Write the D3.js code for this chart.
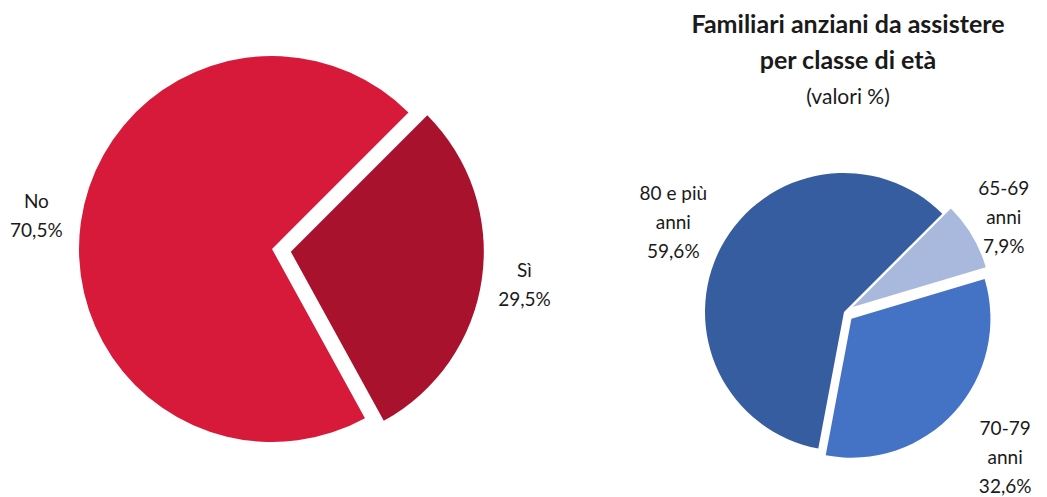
<!DOCTYPE html>
<html>
<head>
<meta charset="utf-8">
<script src="https://cdn.jsdelivr.net/npm/d3@7"></script>
<style>
  body { margin: 0; background: #fff; }
  svg { display: block; font-family: Lato, "Noto Sans", sans-serif; }
</style>
</head>
<body>
<svg></svg>
<script>
// data
const leftLabels = [["Sì"], ["No"]];
const leftValues = [29.5, 70.5];
const leftColors = ["#A8122D", "#D7193A"];
const leftPulled = [true, false];

const rightLabels = [["65-69", "anni"], ["70-79", "anni"], ["80 e più", "anni"]];
const rightValues = [7.9, 32.6, 59.6];
const rightColors = ["#A9B8DD", "#4473C5", "#375DA1"];
const rightPulled = [true, true, false];

const titleLines = ["Familiari anziani da assistere", "per classe di età"];
const subTitle = "(valori %)";

const width = 1047, height = 497;
const svg = d3.select("svg").attr("width", width).attr("height", height);

const fmt = v => d3.format(".1f")(v).replace(".", ",") + "%";

function drawPie(cfg) {
  const g = svg.append("g").attr("transform", `translate(${cfg.cx},${cfg.cy})`);
  const pie = d3.pie().sort(null).value(d => d)
    .startAngle(cfg.start).endAngle(cfg.start + 2 * Math.PI);
  const arcs = pie(cfg.values);
  const arc = d3.arc().innerRadius(0).outerRadius(cfg.r);

  const slice = g.selectAll("g.slice")
    .data(arcs)
    .join("g")
    .attr("class", "slice")
    .attr("transform", (d, i) => {
      if (!cfg.pulled[i]) return null;
      const a = (d.startAngle + d.endAngle) / 2;
      return `translate(${Math.sin(a) * cfg.pull},${-Math.cos(a) * cfg.pull})`;
    });

  slice.append("path")
    .attr("d", arc)
    .attr("fill", (d, i) => cfg.colors[i]);

  // labels outside the slices
  slice.append("text")
    .attr("text-anchor", "middle")
    .attr("font-size", 19)
    .attr("fill", "#1a1a1a")
    .each(function (d, i) {
      const a = (d.startAngle + d.endAngle) / 2;
      const lr = cfg.labelR[i];
      const x = Math.sin(a) * lr;
      const y = -Math.cos(a) * lr;
      const lines = cfg.labels[i].concat([fmt(d.data)]);
      const lh = 29;
      const y0 = y - (lines.length - 1) * lh / 2 + 7;
      d3.select(this).selectAll("tspan")
        .data(lines)
        .join("tspan")
        .attr("x", x)
        .attr("y", (t, k) => y0 + k * lh)
        .text(t => t);
    });
}

drawPie({
  cx: 272, cy: 249, r: 193, start: Math.PI / 4, pull: 19, labelR: [236, 238],
  values: leftValues, labels: leftLabels, colors: leftColors, pulled: leftPulled
});

drawPie({
  cx: 844, cy: 312, r: 139, start: Math.PI / 4, pull: 10, labelR: [176, 207, 193],
  values: rightValues, labels: rightLabels, colors: rightColors, pulled: rightPulled
});

// title
const title = svg.append("text")
  .attr("text-anchor", "middle")
  .attr("fill", "#1a1a1a");
title.selectAll("tspan.t")
  .data(titleLines)
  .join("tspan")
  .attr("class", "t")
  .attr("x", 848)
  .attr("y", (d, i) => 33 + i * 36)
  .attr("font-size", 25)
  .attr("font-weight", "bold")
  .text(d => d);
title.append("tspan")
  .attr("x", 848)
  .attr("y", 104)
  .attr("font-size", 21)
  .text(subTitle);
</script>
</body>
</html>
